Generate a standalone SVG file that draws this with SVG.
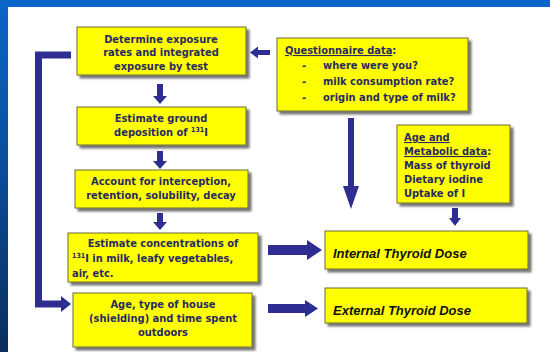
<svg xmlns="http://www.w3.org/2000/svg" width="550" height="352" viewBox="0 0 550 352">
<defs>
<linearGradient id="side" x1="0" y1="0" x2="0" y2="1">
<stop offset="0" stop-color="#0a66c8"/>
<stop offset="0.45" stop-color="#0a4f9e"/>
<stop offset="1" stop-color="#0b2f5e"/>
</linearGradient>
<filter id="sh" x="-10%" y="-10%" width="130%" height="140%">
<feGaussianBlur in="SourceAlpha" stdDeviation="1"/>
<feOffset dx="3" dy="3"/>
<feComponentTransfer><feFuncA type="linear" slope="0.55"/></feComponentTransfer>
<feMerge><feMergeNode/><feMergeNode in="SourceGraphic"/></feMerge>
</filter>
</defs>
<style>
.box{fill:#ffff00;stroke:#6b6b3a;stroke-width:1;filter:url(#sh)}
.t{font-family:"DejaVu Sans Condensed","DejaVu Sans",sans-serif;font-weight:bold;font-size:11px;fill:#2a2a62}
.c{text-anchor:middle}
.d{font-family:"Liberation Sans",Arial,sans-serif;font-weight:bold;font-style:italic;font-size:13px;fill:#111}
.arr{fill:#2e2e92}
.ln{fill:none;stroke:#2e2e92;stroke-width:7}
.sup{font-size:7px}
</style>
<rect x="0" y="0" width="550" height="352" fill="#ffffff"/>
<rect x="0" y="0" width="550" height="7" fill="#0a66c8"/>
<rect x="0" y="0" width="8" height="352" fill="url(#side)"/>

<g id="connectors">
<path class="ln" d="M71 55 H38.5 V304 H62"/>
<polygon class="arr" points="61,296 71,304 61,312"/>
<polygon class="arr" points="157,84 163,84 163,96 167,96 160,104 153,96 157,96"/>
<polygon class="arr" points="157,151 163,151 163,161 167,161 160,169 153,161 157,161"/>
<polygon class="arr" points="157,213 163,213 163,222 167,222 160,230 153,222 157,222"/>
<polygon class="arr" points="270,50 258,50 258,46.5 250,52.5 258,58.5 258,55 270,55"/>
<polygon class="arr" points="348,118 354,118 354,186 359,186 351,209 343,186 348,186"/>
<polygon class="arr" points="452,208 458,208 458,218 461,218 455,226 449,218 452,218"/>
<polygon class="arr" points="268,245 307,245 307,240 322,250 307,260 307,255 268,255"/>
<polygon class="arr" points="268,304 305,304 305,300 318,308.5 305,317 305,313 268,313"/>
</g>

<g id="n1">
<rect class="box" x="77" y="27" width="169" height="48"/>
<text class="t c" x="161" y="43">Determine exposure</text>
<text class="t c" x="161" y="56">rates and integrated</text>
<text class="t c" x="161" y="70">exposure by test</text>
</g>
<g id="n2">
<rect class="box" x="77" y="107" width="169" height="38"/>
<text class="t c" x="161" y="122">Estimate ground</text>
<text class="t c" x="161" y="136">deposition of <tspan class="sup" dy="-4">131</tspan><tspan dy="4">I</tspan></text>
</g>
<g id="n3">
<rect class="box" x="75" y="170" width="173" height="38"/>
<text class="t c" x="161" y="185">Account for interception,</text>
<text class="t c" x="161" y="199">retention, solubility, decay</text>
</g>
<g id="n4">
<rect class="box" x="68" y="233" width="190" height="49"/>
<text class="t c" x="163" y="247">Estimate concentrations of</text>
<text class="t" x="72" y="262"><tspan class="sup" dy="-4">131</tspan><tspan dy="4">I in milk, leafy vegetables,</tspan></text>
<text class="t" x="72" y="277">air,  etc.</text>
</g>
<g id="n5">
<rect class="box" x="73" y="293" width="179" height="54"/>
<text class="t c" x="163" y="308">Age, type of house</text>
<text class="t c" x="163" y="322">(shielding) and time spent</text>
<text class="t c" x="163" y="336">outdoors</text>
</g>
<g id="n6">
<rect class="box" x="277" y="38" width="191" height="73"/>
<text class="t" x="285" y="54"><tspan text-decoration="underline">Questionnaire data</tspan>:</text>
<text class="t" x="302" y="69">-</text>
<text class="t" x="323" y="69">where were you?</text>
<text class="t" x="302" y="85">-</text>
<text class="t" x="323" y="85">milk consumption rate?</text>
<text class="t" x="302" y="101">-</text>
<text class="t" x="323" y="101">origin and type of milk?</text>
</g>
<g id="n7">
<rect class="box" x="397" y="125" width="113" height="78"/>
<text class="t" x="404" y="141" text-decoration="underline">Age and</text>
<text class="t" x="404" y="155"><tspan text-decoration="underline">Metabolic data</tspan>:</text>
<text class="t" x="404" y="169">Mass of thyroid</text>
<text class="t" x="404" y="183">Dietary iodine</text>
<text class="t" x="404" y="197">Uptake of I</text>
</g>
<g id="n8">
<rect class="box" x="325" y="231" width="203" height="38"/>
<text class="d" x="333" y="258">Internal Thyroid Dose</text>
</g>
<g id="n9">
<rect class="box" x="325" y="288" width="202" height="35"/>
<text class="d" x="333" y="315">External Thyroid Dose</text>
</g>
</svg>
